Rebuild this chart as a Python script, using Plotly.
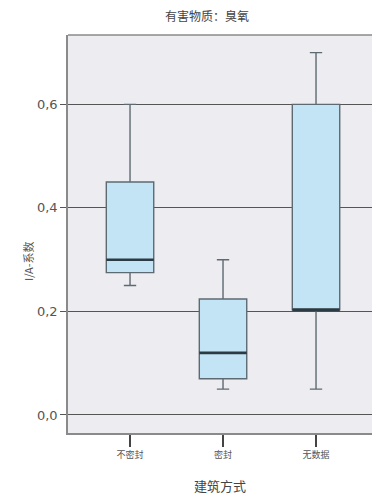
import plotly.graph_objects as go

# Building method categories and box statistics (I/A coefficient)
categories = ["不密封", "密封", "无数据"]
lower_whisker = [0.25, 0.05, 0.05]
q1_values = [0.275, 0.07, 0.203]
medians = [0.30, 0.12, 0.203]
q3_values = [0.45, 0.224, 0.60]
upper_whisker = [0.60, 0.30, 0.70]
y_ticks = [0.0, 0.2, 0.4, 0.6]

positions = list(range(len(categories)))
box_width = 0.51
cjk = "Noto Sans CJK SC"

fig = go.Figure()

for i, pos in enumerate(positions):
    fig.add_trace(go.Box(
        x=[pos],
        q1=[q1_values[i]],
        median=[medians[i]],
        q3=[q3_values[i]],
        lowerfence=[lower_whisker[i]],
        upperfence=[upper_whisker[i]],
        width=box_width,
        whiskerwidth=0.26,
        fillcolor="#C2E4F5",
        line=dict(color="#5E6A72", width=1.4),
        boxpoints=False,
        hoverinfo="skip",
        showlegend=False,
    ))
    # heavier median bar drawn across the box
    fig.add_trace(go.Scatter(
        x=[pos - box_width / 2, pos + box_width / 2],
        y=[medians[i], medians[i]],
        mode="lines",
        line=dict(color="#2C3A43", width=2.6),
        hoverinfo="skip",
        showlegend=False,
    ))

fig.update_layout(
    width=372,
    height=496,
    margin=dict(l=68, r=0, t=35, b=63),
    paper_bgcolor="white",
    plot_bgcolor="#EDECF1",
    separators=",.",
    font=dict(family=cjk, color="#555555"),
    title=dict(
        text="有害物质：臭氧",
        font=dict(family=cjk, size=12, color="#444444"),
        x=0.457, xref="paper", xanchor="center",
        y=1 - 17 / 496, yanchor="middle",
    ),
)

fig.update_xaxes(
    range=[-0.667, 2.602],
    tickmode="array",
    tickvals=positions,
    ticktext=categories,
    ticks="outside",
    ticklen=12,
    tickwidth=1.5,
    tickcolor="#444444",
    tickfont=dict(family=cjk, size=9, color="#555555"),
    showgrid=False,
    zeroline=False,
    showline=True,
    linecolor="#8A8A8A",
    linewidth=1.5,
    title=dict(text="建筑方式", font=dict(family=cjk, size=13, color="#444444"), standoff=22),
)

fig.update_yaxes(
    range=[-0.0348, 0.734],
    tickmode="array",
    tickvals=y_ticks,
    tickformat=".1f",
    ticks="outside",
    ticklen=6,
    tickcolor="#555555",
    tickfont=dict(family="DejaVu Sans", size=13, color="#555555"),
    showgrid=True,
    gridcolor="#555555",
    gridwidth=1,
    zeroline=False,
    showline=True,
    linecolor="#8A8A8A",
    linewidth=1.5,
)

# y-axis caption, sitting a little below the middle of the axis
fig.add_annotation(
    text="I/A-系数", textangle=-90,
    xref="paper", yref="paper",
    x=-(68 - 28) / 304, y=(433 - 261) / 398,
    xanchor="center", yanchor="middle", showarrow=False,
    font=dict(family=cjk, size=11, color="#555555"),
)

# top border of the plotting area
fig.add_shape(type="line", xref="paper", yref="paper", x0=0, x1=1, y0=1, y1=1,
              line=dict(color="#8A8A8A", width=1.5), layer="above")

fig.write_html("out.html")
